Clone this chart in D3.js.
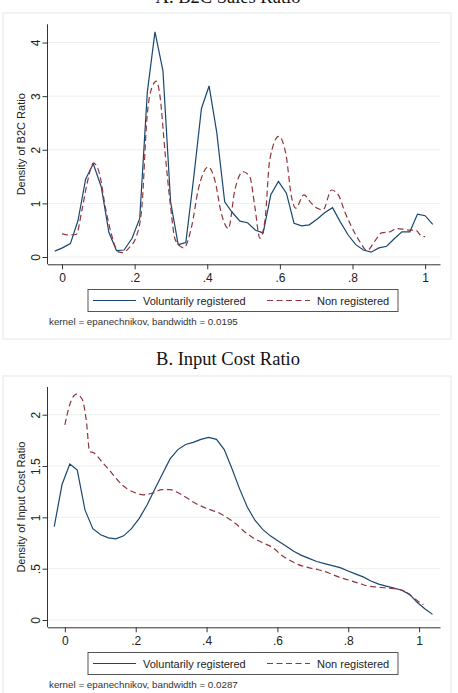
<!DOCTYPE html>
<html>
<head>
<meta charset="utf-8">
<script src="https://cdn.jsdelivr.net/npm/d3@7"></script>
<style>
  body { margin: 0; background: #fff; }
  svg { display: block; font-family: "Liberation Sans", Arial, sans-serif; }
</style>
</head>
<body>
<svg id="chart" width="458" height="693"></svg>
<script>
      // ---- panel A : B2C sales ratio (kdensity, 50 points) ----
      var b2cVolX = [-0.020, 0.001, 0.023, 0.044, 0.065, 0.086, 0.108, 0.129, 0.150, 0.171,
                     0.193, 0.214, 0.235, 0.256, 0.278, 0.299, 0.320, 0.341, 0.363, 0.384,
                     0.405, 0.426, 0.448, 0.469, 0.490, 0.511, 0.533, 0.554, 0.575, 0.596,
                     0.618, 0.639, 0.660, 0.681, 0.703, 0.724, 0.745, 0.766, 0.788, 0.809,
                     0.830, 0.851, 0.873, 0.894, 0.915, 0.936, 0.958, 0.979, 1.000, 1.021];
      var b2cVolY = [0.11, 0.17, 0.25, 0.68, 1.45, 1.74, 1.31, 0.46, 0.12, 0.13,
                     0.35, 0.72, 3.08, 4.20, 3.47, 1.03, 0.23, 0.27, 1.50, 2.77,
                     3.19, 2.33, 1.03, 0.83, 0.67, 0.64, 0.50, 0.45, 1.16, 1.41,
                     1.19, 0.63, 0.58, 0.60, 0.71, 0.83, 0.92, 0.66, 0.41, 0.23,
                     0.13, 0.09, 0.17, 0.20, 0.34, 0.47, 0.47, 0.80, 0.77, 0.61];

      var b2cNonX = [0.000, 0.020, 0.039, 0.055, 0.069, 0.087, 0.103, 0.119, 0.138, 0.154,
                     0.167, 0.183, 0.206, 0.220, 0.234, 0.248, 0.260, 0.270, 0.284, 0.298,
                     0.312, 0.335, 0.357, 0.375, 0.403, 0.421, 0.439, 0.458, 0.476, 0.499,
                     0.517, 0.531, 0.545, 0.559, 0.572, 0.597, 0.617, 0.632, 0.644, 0.666,
                     0.687, 0.703, 0.719, 0.742, 0.761, 0.779, 0.797, 0.820, 0.840, 0.861,
                     0.880, 0.903, 0.921, 0.939, 0.958, 0.974, 0.990, 1.000];
      var b2cNonY = [0.43, 0.41, 0.42, 0.88, 1.37, 1.75, 1.56, 0.94, 0.38, 0.10,
                     0.08, 0.16, 0.41, 0.94, 2.60, 3.17, 3.28, 2.99, 1.93, 1.00,
                     0.32, 0.17, 0.57, 1.25, 1.68, 1.43, 0.81, 0.53, 1.25, 1.59,
                     1.50, 0.94, 0.35, 0.69, 1.81, 2.25, 1.90, 1.12, 0.91, 1.16,
                     1.00, 0.91, 0.88, 1.25, 1.16, 0.84, 0.57, 0.29, 0.12, 0.29,
                     0.45, 0.47, 0.53, 0.52, 0.50, 0.50, 0.39, 0.38];

      // ---- panel B : input cost ratio ----
      var icrVolX = [-0.030, -0.008, 0.014, 0.035, 0.057, 0.079, 0.101, 0.123, 0.144, 0.166,
                     0.188, 0.210, 0.232, 0.253, 0.275, 0.297, 0.319, 0.341, 0.362, 0.384,
                     0.406, 0.428, 0.450, 0.471, 0.493, 0.515, 0.537, 0.559, 0.580, 0.602,
                     0.624, 0.646, 0.668, 0.689, 0.711, 0.733, 0.755, 0.777, 0.798, 0.820,
                     0.842, 0.864, 0.886, 0.907, 0.929, 0.951, 0.973, 0.995, 1.016, 1.038];
      var icrVolY = [0.91, 1.32, 1.52, 1.46, 1.07, 0.89, 0.83, 0.80, 0.79, 0.82,
                     0.89, 0.99, 1.12, 1.27, 1.42, 1.57, 1.66, 1.71, 1.73, 1.76,
                     1.78, 1.76, 1.66, 1.48, 1.28, 1.10, 0.97, 0.88, 0.82, 0.77,
                     0.72, 0.67, 0.63, 0.60, 0.57, 0.55, 0.53, 0.51, 0.48, 0.45,
                     0.42, 0.38, 0.35, 0.33, 0.31, 0.29, 0.25, 0.17, 0.11, 0.055];

      var icrNonX = [0.000, 0.014, 0.033, 0.049, 0.061, 0.070, 0.081, 0.105, 0.128, 0.152,
                     0.175, 0.199, 0.222, 0.250, 0.274, 0.297, 0.320, 0.344, 0.367, 0.391,
                     0.414, 0.437, 0.461, 0.482, 0.504, 0.532, 0.560, 0.589, 0.612, 0.636,
                     0.659, 0.688, 0.716, 0.744, 0.772, 0.800, 0.829, 0.857, 0.885, 0.913,
                     0.942, 0.960, 0.979, 0.998, 1.012];
      var icrNonY = [1.90, 2.10, 2.20, 2.15, 1.93, 1.64, 1.63, 1.54, 1.45, 1.35,
                     1.28, 1.24, 1.22, 1.24, 1.27, 1.27, 1.24, 1.19, 1.14, 1.10,
                     1.07, 1.04, 0.99, 0.94, 0.87, 0.80, 0.75, 0.70, 0.63, 0.58,
                     0.54, 0.51, 0.49, 0.46, 0.42, 0.39, 0.36, 0.33, 0.32, 0.31,
                     0.30, 0.28, 0.23, 0.18, 0.15];

      var xTicks = [0, 0.2, 0.4, 0.6, 0.8, 1];
      var b2cYTicks = [0, 1, 2, 3, 4];
      var icrYTicks = [0, 0.5, 1, 1.5, 2];

      var seriesNames = ['Voluntarily registered', 'Non registered'];
      var colBlue = '#1a476f';
      var colRed = '#90353b';

      var svg = d3.select('#chart');

      // Stata style labels: .2 instead of 0.2
      function stataFmt(v) {
        return String(+v.toFixed(2)).replace(/^0\./, '.');
      }

      function drawPanel(p) {
        var g = svg.append('g');

        // graph region outline
        g.append('rect')
          .attr('x', p.box[0]).attr('y', p.box[1])
          .attr('width', p.box[2]).attr('height', p.box[3])
          .attr('fill', '#fff')
          .attr('stroke', '#e6ebee')
          .attr('stroke-width', 1.2);

        // title (panel A's title sits partly above the page edge, as in the source)
        g.append('text')
          .attr('x', 228)
          .attr('y', p.titleY)
          .attr('text-anchor', 'middle')
          .style('font-family', '"Liberation Serif", "DejaVu Serif", serif')
          .style('font-size', '18.5px')
          .attr('fill', '#111')
          .text(p.title);

        var xScale = d3.scaleLinear().domain(p.xDom).range([p.left, p.right]);
        var yScale = d3.scaleLinear().domain(p.yDom).range([p.bottom, p.top]);

        // grid
        g.selectAll('line.grid')
          .data(p.yTicks)
          .enter()
          .append('line')
          .attr('class', 'grid')
          .attr('x1', p.left).attr('x2', p.right)
          .attr('y1', d => yScale(d)).attr('y2', d => yScale(d))
          .attr('stroke', '#eaf0f2')
          .attr('stroke-width', 1);

        // axes
        var xAxis = d3.axisBottom(xScale).tickValues(xTicks).tickSize(5).tickSizeOuter(0).tickFormat(stataFmt);
        var gx = g.append('g')
          .attr('transform', `translate(0,${p.bottom})`)
          .call(xAxis);
        gx.selectAll('text').attr('y', 9).style('font-size', '12px').attr('fill', '#222');

        var yAxis = d3.axisLeft(yScale).tickValues(p.yTicks).tickSize(5).tickSizeOuter(0).tickFormat(stataFmt);
        var gy = g.append('g')
          .attr('transform', `translate(${p.left},0)`)
          .call(yAxis);
        gy.select('.domain').attr('d', `M0,${p.top}V${p.bottom}`);
        gy.selectAll('.tick text')
          .attr('x', 0).attr('dy', 0)
          .attr('text-anchor', 'middle')
          .attr('transform', 'translate(-8,0) rotate(-90)')
          .style('font-size', '12px')
          .attr('fill', '#222');
        g.selectAll('.domain, .tick line').attr('stroke', '#333');

        // y title
        g.append('text')
          .attr('transform', `translate(25,${(p.top + p.bottom) / 2}) rotate(-90)`)
          .attr('text-anchor', 'middle')
          .style('font-size', '11px')
          .attr('fill', '#222')
          .text(p.yTitle);

        var line = d3.line()
          .x(d => xScale(d[0]))
          .y(d => yScale(d[1]));
        var smooth = d3.line()
          .x(d => xScale(d[0]))
          .y(d => yScale(d[1]))
          .curve(d3.curveMonotoneX);

        g.append('path')
          .datum(d3.zip(p.volX, p.volY))
          .attr('d', line)
          .attr('fill', 'none')
          .attr('stroke', colBlue)
          .attr('stroke-width', 1.2);

        g.append('path')
          .datum(d3.zip(p.nonX, p.nonY))
          .attr('d', smooth)
          .attr('fill', 'none')
          .attr('stroke', colRed)
          .attr('stroke-width', 1.2)
          .attr('stroke-dasharray', '6,3.5');

        // legend
        var lg = g.append('g').attr('transform', `translate(88,${p.legendY})`);
        lg.append('rect')
          .attr('width', 310).attr('height', 22)
          .attr('fill', '#fff')
          .attr('stroke', '#555')
          .attr('stroke-width', 1);
        lg.append('line')
          .attr('x1', 5).attr('x2', 48).attr('y1', 11).attr('y2', 11)
          .attr('stroke', colBlue).attr('stroke-width', 1.2);
        lg.append('line')
          .attr('x1', 179).attr('x2', 222).attr('y1', 11).attr('y2', 11)
          .attr('stroke', colRed).attr('stroke-width', 1.2)
          .attr('stroke-dasharray', '6,3.5');
        lg.selectAll('text.leg')
          .data(seriesNames)
          .enter()
          .append('text')
          .attr('class', 'leg')
          .attr('x', (d, i) => i == 0 ? 55 : 229)
          .attr('y', 15)
          .style('font-size', '11px')
          .attr('fill', '#222')
          .text(d => d);

        // note
        g.append('text')
          .attr('x', 49)
          .attr('y', p.legendY + 35)
          .style('font-size', '9.8px')
          .attr('fill', '#333')
          .text(p.note);
      }

      drawPanel({
        box: [3, 13, 448, 326],
        title: 'A. B2C Sales Ratio', titleY: 3,
        left: 47.5, right: 440, top: 24.3, bottom: 264.3,
        xDom: [-0.04, 1.041], yDom: [-0.136, 4.34],
        yTicks: b2cYTicks,
        yTitle: 'Density of B2C Ratio',
        volX: b2cVolX, volY: b2cVolY, nonX: b2cNonX, nonY: b2cNonY,
        legendY: 289.5,
        note: 'kernel = epanechnikov, bandwidth = 0.0195'
      });

      drawPanel({
        box: [3, 376, 448, 330],
        title: 'B. Input Cost Ratio', titleY: 365,
        left: 47.5, right: 440, top: 387, bottom: 627.3,
        xDom: [-0.049, 1.059], yDom: [-0.071, 2.27],
        yTicks: icrYTicks,
        yTitle: 'Density of Input Cost Ratio',
        volX: icrVolX, volY: icrVolY, nonX: icrNonX, nonY: icrNonY,
        legendY: 652.5,
        note: 'kernel = epanechnikov, bandwidth = 0.0287'
      });
</script>
</body>
</html>
